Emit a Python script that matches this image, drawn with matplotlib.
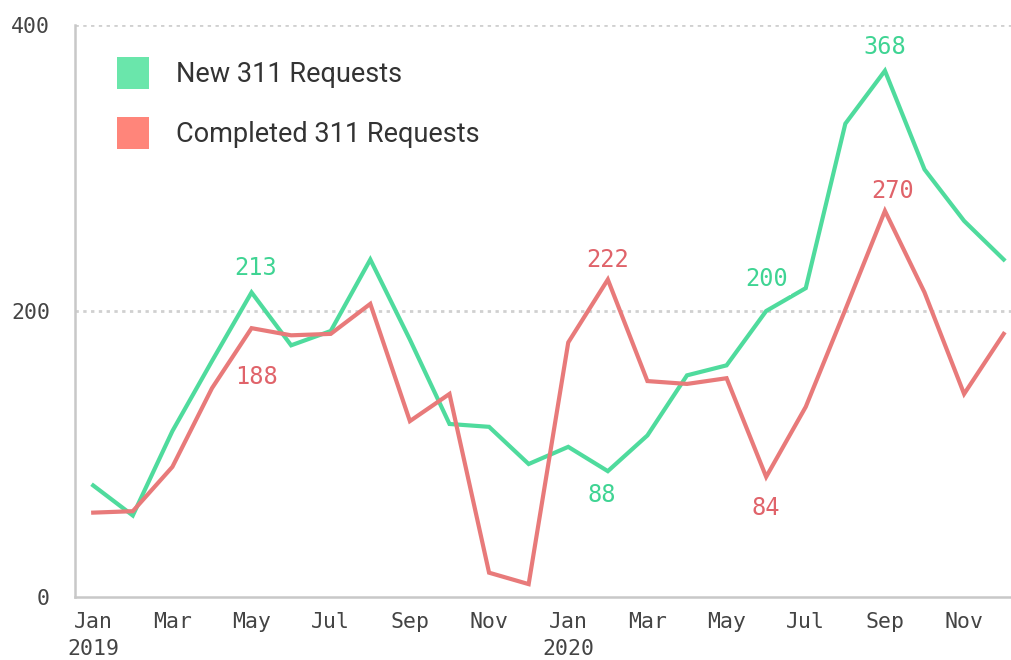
# Monthly 311 requests, new vs completed (2019-2020)

import matplotlib
matplotlib.use("Agg")
import matplotlib.pyplot as plt
from matplotlib.patches import Rectangle

# --- Data ---
months = ["Jan", "Feb", "Mar", "Apr", "May", "Jun",
          "Jul", "Aug", "Sep", "Oct", "Nov", "Dec"] * 2
years = ["2019"] * 12 + ["2020"] * 12

new_requests = [78, 57, 116, 165, 213, 176, 186, 236, 180, 121, 119, 93,
                105, 88, 113, 155, 162, 200, 216, 331, 368, 299, 263, 236]
completed_requests = [59, 60, 91, 146, 188, 183, 184, 205, 123, 142, 17, 9,
                      178, 222, 151, 149, 153, 84, 133, 201, 270, 213, 142, 184]

# (series, month index, label offset in pixels: dx, dy)
annotations = [
    ("new", 4, (4, 24)), ("new", 13, (-6, -24)), ("new", 17, (0, 32)), ("new", 20, (0, 24)),
    ("completed", 4, (5, -49)), ("completed", 13, (0, 20)), ("completed", 17, (0, -31)),
    ("completed", 20, (8, 20)),
]

GREEN = "#4fdb9d"
RED = "#e87a7a"
GREEN_TXT = "#3fd493"
RED_TXT = "#e0636a"
SWATCH_GREEN = "#6ae6ab"
SWATCH_RED = "#ff857a"
TICK_COLOR = "#444444"
MONO = ["DejaVu Sans Mono"]

# --- Plot ---
fig = plt.figure(figsize=(10.12, 6.6), dpi=100)
ax = fig.add_axes([75 / 1012, 1 - 597 / 660, 1 - 75 / 1012, (597 - 25) / 660])

x = list(range(len(months)))
ax.plot(x, new_requests, color=GREEN, lw=3, solid_joinstyle="miter", zorder=3)
ax.plot(x, completed_requests, color=RED, lw=3, solid_joinstyle="miter", zorder=3)

ax.set_xlim(-0.46, 23.21)
ax.set_ylim(0, 400)

ticks = x[::2]
ax.set_xticks(ticks)
ax.set_xticklabels([f"{months[i]}\n{years[i]}" if months[i] == "Jan" else months[i]
                    for i in ticks], family=MONO, fontsize=15.5, color=TICK_COLOR,
                   linespacing=1.45, va="top")
ax.set_yticks([0, 200, 400])
ax.set_yticklabels(["0", "200", "400"], family=MONO, fontsize=15.5, color=TICK_COLOR)
ax.tick_params(axis="x", length=0, pad=11)
ax.tick_params(axis="y", length=0, pad=18)

for y in [200, 400]:
    ax.axhline(y, color="#d0d0d0", lw=2, ls=(0, (1.2, 1.6)), zorder=1)

for side in ["top", "right"]:
    ax.spines[side].set_visible(False)
for side in ["left", "bottom"]:
    ax.spines[side].set_color("#c8c8c8")
    ax.spines[side].set_linewidth(1.8)

series = {"new": (new_requests, GREEN_TXT), "completed": (completed_requests, RED_TXT)}
for name, i, (dx, dy) in annotations:
    vals, col = series[name]
    ax.annotate(str(vals[i]), (i, vals[i]), xytext=(dx * 0.72, dy * 0.72),
                textcoords="offset points", ha="center", va="center", fontsize=17,
                color=col, family=MONO,
                bbox=dict(boxstyle="square,pad=0.15", fc="white", ec="none", alpha=0.85),
                zorder=4)

# --- Legend (drawn by hand to match placement) ---
legend_items = [("New 311 Requests", SWATCH_GREEN, 73), ("Completed 311 Requests", SWATCH_RED, 133)]
for text, col, yc in legend_items:
    fig.patches.append(Rectangle((117 / 1012, 1 - (yc + 16) / 660), 32 / 1012, 32 / 660,
                                 transform=fig.transFigure, fc=col, ec="none"))
    fig.text(176 / 1012, 1 - (yc + 2) / 660, text, fontsize=19.5,
             family=["Roboto", "DejaVu Sans"], color="#333333", va="center", ha="left")

fig.savefig("out.png", dpi=100)
